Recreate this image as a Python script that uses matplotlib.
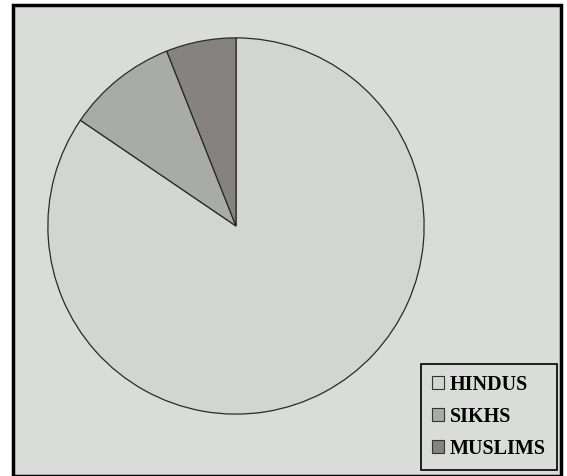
import matplotlib
matplotlib.use("Agg")
import matplotlib.pyplot as plt
from matplotlib.patches import Rectangle

labels = ["HINDUS", "SIKHS", "MUSLIMS"]
values = [84.5, 9.5, 6.0]
colors = ["#d3d5d2", "#a9aba9", "#868282"]
bg = "#d9dcd8"

W, H = 567, 476
fig = plt.figure(figsize=(W / 100, H / 100), dpi=100, facecolor="white")
fig.patches.append(Rectangle((13 / W, 0), (561 - 13) / W, (471) / H,
                             transform=fig.transFigure, facecolor=bg,
                             edgecolor="black", linewidth=2.5, zorder=-5))

cx, cy, r = 236, 226, 190
ax = fig.add_axes([(cx - r) / W, (H - cy - r) / H, 2 * r / W, 2 * r / H])
ax.set_zorder(2)
ax.set_facecolor("none")
wedges, _ = ax.pie(values, colors=colors, startangle=90, counterclock=False,
                   wedgeprops=dict(edgecolor="#2a2a2a", linewidth=0.9))
ax.set_xlim(-1.01, 1.01)
ax.set_ylim(-1.01, 1.01)
ax.axis("off")

leg = fig.legend(wedges, labels, loc="lower right",
                 bbox_to_anchor=(557 / W, 6 / H), borderaxespad=0,
                 frameon=True, fancybox=False, framealpha=1,
                 facecolor=bg, edgecolor="black",
                 handlelength=0.6, handleheight=0.6, handletextpad=0.3,
                 labelspacing=0.6, borderpad=0.55,
                 prop=dict(family="Liberation Serif", weight="bold", size=14.5))
leg.set_zorder(3)
leg.get_frame().set_linewidth(1.2)
for h in leg.legend_handles:
    h.set_edgecolor("#333333")
    h.set_linewidth(0.8)

fig.savefig("out.png", dpi=100, facecolor="white")
